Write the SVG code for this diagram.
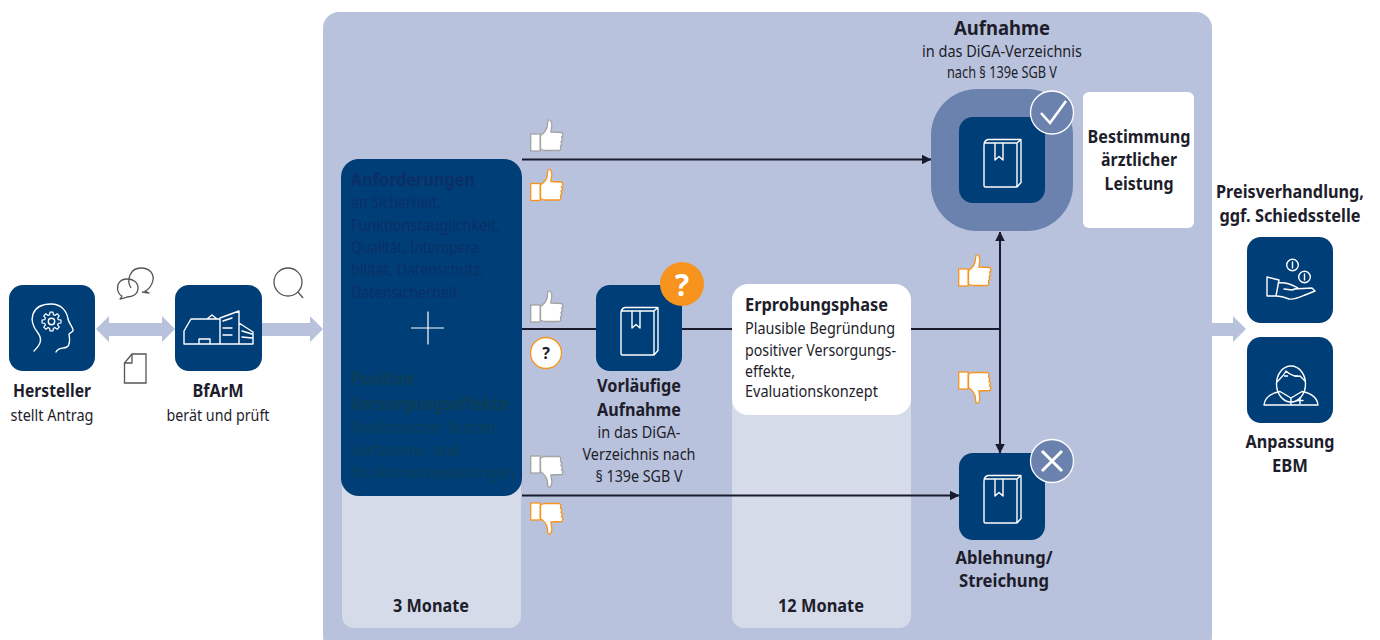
<svg xmlns="http://www.w3.org/2000/svg" xmlns:xlink="http://www.w3.org/1999/xlink" width="1380" height="640" viewBox="0 0 1380 640">
<style>
text{font-family:"Noto Sans","Open Sans","Liberation Sans",sans-serif;fill:#1d1d2b;text-anchor:middle}
.b{font-weight:700}
.s{font-size:16px}
.h{font-size:17.5px}
.l{text-anchor:start}
.navy{fill:#003e78}
.ic{fill:none;stroke:#fff;stroke-width:1.4;stroke-linejoin:round;stroke-linecap:round}
.gr{fill:none;stroke:#555;stroke-width:1.3;stroke-linejoin:round}
.wide{fill:#b9c2dc}
.line{fill:none;stroke:#1a1a2e;stroke-width:2}
.tg{color:#a3a3a3}
.to{color:#f7941d}
.d1{fill:#0b2f66}
.d2{fill:#0a3f57}
</style>
<defs>
<marker id="ah" viewBox="0 0 10 10" refX="9.5" refY="5" markerWidth="9.5" markerHeight="9.5" markerUnits="userSpaceOnUse" orient="auto"><path d="M0 0L10 5L0 10Z" fill="#1a1a2e"/></marker>
<g id="up"><rect x="0.7" y="15" width="9.5" height="17" fill="#fff" stroke="currentColor" stroke-width="1.3"/><path d="M10.5 16.5C14 14 16.5 11 17.2 7.5L18 1C20.5 .2 22 3 21.8 7L20.8 13L32.2 13.5L33 17L31.5 18L32.6 21L31 22.5L31.8 25.5L30.5 26.5L30.8 30.5L29 31.5L14 31.5L10.5 30Z" fill="#fff" stroke="currentColor" stroke-width="1.3" stroke-linejoin="round"/></g>
<g id="down"><use href="#up" transform="matrix(1 0 0 -1 0 33)"/></g>
<g id="book"><path class="ic" d="M25 26H58V68.500Q58 70 56.500 70H26.500Q25 70 25 68.500V28.500Q25 23.500 29 22.500H61Q62 22.500 62 24V65.500L58 70M58 26L62 22.500M36 26V43L40 39.500L44 43V26"/></g>
</defs>

<rect x="323" y="12" width="889" height="640" rx="16" fill="#b9c2dc"/>
<rect x="342" y="400" width="179" height="228" rx="12" fill="#d5dbe9"/>
<rect x="732" y="300" width="179" height="328" rx="12" fill="#d5dbe9"/>

<g id="connectors">
<path class="wide" d="M96 329L109 316V323H162V316L175 329L162 342V336H109V342Z"/>
<path class="wide" d="M262 323H310V316L323 329L310 342V336H262Z"/>
<path class="wide" d="M1212 323H1233V316L1246 329L1233 342V336H1212Z"/>
<path class="line" d="M522 159.500H931" marker-end="url(#ah)"/>
<path class="line" d="M522 329H1000"/>
<path class="line" d="M522 495.500H959" marker-end="url(#ah)"/>
<path class="line" d="M1000 329V232" marker-end="url(#ah)"/>
<path class="line" d="M1000 329V453" marker-end="url(#ah)"/>
</g>

<g id="bubbles"><path class="gr" d="M131 288C126 280 130 268 141 268C150 268 154 274 153 280C152 286 148 290 145 291L149 293L142 292"/><path class="gr" d="M138 288C138 282 133 279 127 279C120 279 117 284 117.500 289C118 293 120 295 122 296L120 299L127 297C133 297 138 294 138 288Z"/></g>
<g id="document"><path d="M132 354H146V383H124.500V363Z" fill="#fff" stroke="#555" stroke-width="1.300"/><path class="gr" d="M132 354V363H124.500"/></g>
<g id="magnifier"><circle class="gr" cx="288" cy="282" r="14"/><path class="gr" d="M298 292L303 298"/></g>

<g id="hersteller">
<rect class="navy" x="9" y="285" width="86" height="86" rx="14"/>
<path class="ic" d="M34 351C40 345 43 340 38 333C33 327 31 320 33 314C36 306 44 304 51 304C62 304 67 312 68 319C69 324 74 328 73 331L69 334C70 340 70 345 67 347C63 349 58 347 56 352"/>
<path class="ic" transform="translate(51.500 321.500) scale(.87)" d="M7.700-2.200L10.900-1.700L10.900 1.700L7.700 2.200L7 3.900L8.900 6.500L6.500 8.900L3.900 7L2.200 7.700L1.700 10.900L-1.700 10.900L-2.200 7.700L-3.900 7L-6.500 8.900L-8.900 6.500L-7 3.900L-7.700 2.200L-10.900 1.700L-10.900-1.700L-7.700-2.200L-7-3.900L-8.900-6.500L-6.500-8.900L-3.900-7L-2.200-7.700L-1.700-10.900L1.700-10.900L2.200-7.700L3.900-7L6.500-8.900L8.900-6.500L7-3.900Z"/>
<circle class="ic" cx="51.500" cy="321.500" r="3.200"/>
<text class="b h" x="52" y="397" textLength="78" lengthAdjust="spacingAndGlyphs">Hersteller</text>
<text class="s" x="52" y="421" textLength="83" lengthAdjust="spacingAndGlyphs">stellt Antrag</text>
</g>

<g id="bfarm">
<rect class="navy" x="175" y="285" width="87" height="86" rx="14"/>
<path class="ic" d="M184 331L191 319H220V344H184ZM199 344V339H210V344M207 319L212 315L217 319M220 318L239 311V344H220M223 321L232 318M223 328H232M223 335H232M239 323L253 332V344H239M242 331L252 334M242 337L252 338M184 344H253"/>
<text class="b h" x="218" y="397" textLength="51" lengthAdjust="spacingAndGlyphs">BfArM</text>
<text class="s" x="218" y="421" textLength="103" lengthAdjust="spacingAndGlyphs">berät und prüft</text>
</g>

<g id="anforderungen">
<rect class="navy" x="341" y="159" width="181" height="337" rx="18"/>
<text class="b l d1" x="351" y="186" font-size="17.500" textLength="124" lengthAdjust="spacingAndGlyphs">Anforderungen</text>
<text class="l d1" font-size="16" x="351" y="208" textLength="90" lengthAdjust="spacingAndGlyphs">an Sicherheit,</text>
<text class="l d1" font-size="16" x="351" y="231" textLength="149" lengthAdjust="spacingAndGlyphs">Funktionstauglichkeit,</text>
<text class="l d1" font-size="16" x="351" y="253" textLength="132" lengthAdjust="spacingAndGlyphs">Qualität, Interopera-</text>
<text class="l d1" font-size="16" x="351" y="275" textLength="133" lengthAdjust="spacingAndGlyphs">bilität, Datenschutz,</text>
<text class="l d1" font-size="16" x="351" y="298" textLength="107" lengthAdjust="spacingAndGlyphs">Datensicherheit</text>
<path d="M428 311.500V344.500M411 328H444" fill="none" stroke="#fff" stroke-width="1.200"/>
<text class="b l d2" x="351" y="385" font-size="17.500" textLength="63" lengthAdjust="spacingAndGlyphs">Positive</text>
<text class="b l d2" x="351" y="410" font-size="17.500" textLength="158" lengthAdjust="spacingAndGlyphs">Versorgungseffekte</text>
<text class="l d2" font-size="16" x="351" y="433" textLength="149" lengthAdjust="spacingAndGlyphs">Medizinischer Nutzen,</text>
<text class="l d2" font-size="16" x="351" y="456" textLength="109" lengthAdjust="spacingAndGlyphs">Verfahrens- und</text>
<text class="l d2" font-size="16" x="351" y="478" textLength="164" lengthAdjust="spacingAndGlyphs">Strukturverbesserungen</text>
</g>

<g id="thumbs">
<use href="#up" class="tg" x="530" y="119"/>
<use href="#up" class="to" x="530" y="168.500"/>
<use href="#up" class="tg" x="530" y="290"/>
<use href="#down" class="tg" x="530" y="455"/>
<use href="#down" class="to" x="530" y="502"/>
<use href="#up" class="to" x="958" y="254"/>
<use href="#down" class="to" x="958" y="371"/>
</g>
<g id="frage"><circle cx="546" cy="353" r="15.500" fill="#fff" stroke="#f7941d" stroke-width="1.300"/><text class="b" x="546" y="359" font-size="16">?</text></g>

<g id="vorlaeufig">
<rect class="navy" x="596" y="285" width="86" height="86" rx="14"/>
<use href="#book" x="596" y="285"/>
<circle cx="682" cy="284" r="22" fill="#f7941d"/>
<text class="b" x="682" y="296" font-size="30" style="fill:#fff" textLength="14" lengthAdjust="spacingAndGlyphs">?</text>
<text class="b h" x="639" y="392" textLength="84" lengthAdjust="spacingAndGlyphs">Vorläufige</text>
<text class="b h" x="639" y="416" textLength="84" lengthAdjust="spacingAndGlyphs">Aufnahme</text>
<text class="s" x="639" y="438" textLength="83" lengthAdjust="spacingAndGlyphs">in das DiGA-</text>
<text class="s" x="639" y="460" textLength="113" lengthAdjust="spacingAndGlyphs">Verzeichnis nach</text>
<text class="s" x="639" y="482" textLength="87" lengthAdjust="spacingAndGlyphs">§ 139e SGB V</text>
</g>

<g id="erprobung">
<rect x="732" y="284" width="179" height="131" rx="16" fill="#fff"/>
<text class="b h l" x="745" y="311" textLength="143" lengthAdjust="spacingAndGlyphs">Erprobungsphase</text>
<text class="s l" x="745" y="334" textLength="150" lengthAdjust="spacingAndGlyphs">Plausible Begründung</text>
<text class="s l" x="745" y="356" textLength="151" lengthAdjust="spacingAndGlyphs">positiver Versorgungs-</text>
<text class="s l" x="745" y="377" textLength="50" lengthAdjust="spacingAndGlyphs">effekte,</text>
<text class="s l" x="745" y="397" textLength="133" lengthAdjust="spacingAndGlyphs">Evaluationskonzept</text>
</g>

<g id="aufnahme">
<text class="b" x="1002" y="35" font-size="20" textLength="96" lengthAdjust="spacingAndGlyphs">Aufnahme</text>
<text class="s" x="1002" y="57" textLength="160" lengthAdjust="spacingAndGlyphs">in das DiGA-Verzeichnis</text>
<text class="s" x="1002" y="78" textLength="110" lengthAdjust="spacingAndGlyphs">nach § 139e SGB V</text>
<rect x="931" y="89" width="142" height="142" rx="46" fill="#6b82ae"/>
<rect class="navy" x="959" y="117" width="86" height="86" rx="14"/>
<use href="#book" x="959" y="117"/>
<circle cx="1052" cy="112.500" r="21.500" fill="#6b82ae" stroke="#fff" stroke-width="1.300"/>
<path d="M1041 113L1050 123L1066 101" fill="none" stroke="#fff" stroke-width="2.600"/>
</g>

<g id="bestimmung">
<rect x="1083" y="92" width="111" height="136" rx="6" fill="#fff"/>
<text class="b h" x="1139" y="143" textLength="103" lengthAdjust="spacingAndGlyphs">Bestimmung</text>
<text class="b h" x="1139" y="166" textLength="76" lengthAdjust="spacingAndGlyphs">ärztlicher</text>
<text class="b h" x="1139" y="190" textLength="69" lengthAdjust="spacingAndGlyphs">Leistung</text>
</g>

<g id="ablehnung">
<rect class="navy" x="959" y="453" width="86" height="87" rx="14"/>
<use href="#book" x="959" y="453"/>
<circle cx="1052" cy="461" r="21.500" fill="#6b82ae" stroke="#fff" stroke-width="1.300"/>
<path d="M1042 451L1062 471M1062 451L1042 471" fill="none" stroke="#fff" stroke-width="3"/>
<text class="b h" x="1004" y="564" textLength="97" lengthAdjust="spacingAndGlyphs">Ablehnung/</text>
<text class="b h" x="1004" y="587" textLength="90" lengthAdjust="spacingAndGlyphs">Streichung</text>
</g>

<g id="monate">
<text class="b h" x="431" y="612" textLength="76" lengthAdjust="spacingAndGlyphs">3 Monate</text>
<text class="b h" x="821" y="612" textLength="86" lengthAdjust="spacingAndGlyphs">12 Monate</text>
</g>

<g id="preis">
<text class="b h" x="1290" y="198" textLength="148" lengthAdjust="spacingAndGlyphs">Preisverhandlung,</text>
<text class="b h" x="1290" y="222" textLength="141" lengthAdjust="spacingAndGlyphs">ggf. Schiedsstelle</text>
<rect class="navy" x="1247" y="237" width="86" height="86" rx="14"/>
<circle class="ic" cx="1292.500" cy="265" r="5.800"/><path class="ic" d="M1292.500 262V268"/>
<circle class="ic" cx="1304.500" cy="277" r="5.800"/><path class="ic" d="M1304.500 274V280"/>
<path class="ic" d="M1267 277L1279 280L1276 296H1267ZM1278 283C1285 282 1291 284 1298 288L1292 290L1284 289M1294 289L1312 288L1315 291L1305 295C1298 298 1294 300 1289 299C1284 297 1280 296 1276 296"/>
</g>

<g id="ebm">
<rect class="navy" x="1247" y="337" width="86" height="86" rx="14"/>
<ellipse class="ic" cx="1291" cy="384" rx="14.500" ry="18"/>
<path class="ic" d="M1277 382C1281 378 1284 375 1286 371C1290 375 1296 377 1300 376L1305 381"/>
<path class="ic" d="M1264 405C1265 397 1272 393 1280 391.500L1291 398L1302 391.500C1310 393 1317 397 1318 405ZM1291 398V405M1300 398V403.500M1297 400.500H1303"/>
<circle cx="1286" cy="376" r="0" fill="#fff"/>
<path d="M1284 376H1288M1294 376H1298" fill="none" stroke="#fff" stroke-width="1.400"/>
<text class="b h" x="1290" y="448" textLength="89" lengthAdjust="spacingAndGlyphs">Anpassung</text>
<text class="b h" x="1290" y="472" textLength="36" lengthAdjust="spacingAndGlyphs">EBM</text>
</g>
</svg>
